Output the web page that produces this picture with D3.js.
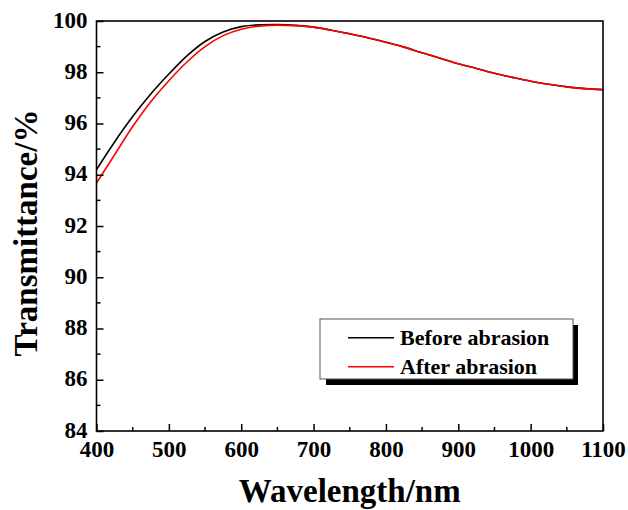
<!DOCTYPE html>
<html>
<head>
<meta charset="utf-8">
<script src="https://cdn.jsdelivr.net/npm/d3@7"></script>
<style>
  html, body { margin: 0; padding: 0; background: #fff; }
  svg { display: block; }
  text { font-family: "Liberation Serif", "Times New Roman", serif; font-weight: bold; fill: #000; }
</style>
</head>
<body>
<svg id="chart" width="628" height="510"></svg>
<script>
const wavelength = [400,425,450,475,500,525,550,575,600,625,650,675,700,725,750,775,800,825,850,875,900,925,950,975,1000,1025,1050,1075,1100];
const beforeAbrasion = [94.20,95.28,96.27,97.15,97.93,98.64,99.20,99.57,99.78,99.85,99.86,99.83,99.76,99.64,99.50,99.35,99.17,98.98,98.76,98.55,98.33,98.15,97.96,97.80,97.65,97.53,97.43,97.36,97.32];
const afterAbrasion  = [93.68,94.78,95.88,96.85,97.67,98.40,99.00,99.43,99.68,99.80,99.84,99.82,99.76,99.64,99.50,99.35,99.17,98.98,98.76,98.55,98.33,98.15,97.96,97.80,97.65,97.53,97.43,97.36,97.32];
const xTicks = [400,500,600,700,800,900,1000,1100];
const yTicks = [84,86,88,90,92,94,96,98,100];
const seriesNames = ["Before abrasion","After abrasion"];
const seriesColors = ["#000000","#ff0000"];

const svg = d3.select("#chart");
const L = 96.5, R = 603, T = 21, B = 431;
const x = d3.scaleLinear().domain([400,1100]).range([L,R]);
const y = d3.scaleLinear().domain([84,100]).range([B,T]);

// curves
const series = [beforeAbrasion, afterAbrasion];
const line = d3.line().x(d => x(d[0])).y(d => y(d[1])).curve(d3.curveMonotoneX);
series.forEach((vals, i) => {
  svg.append("path")
    .datum(wavelength.map((w, j) => [w, vals[j]]))
    .attr("d", line)
    .attr("fill", "none")
    .attr("stroke", seriesColors[i])
    .attr("stroke-width", 1.6);
});

// frame
svg.append("rect").attr("x", L).attr("y", T).attr("width", R - L).attr("height", B - T)
  .attr("fill", "none").attr("stroke", "#000").attr("stroke-width", 1.6);

// bottom axis
const xMinor = d3.range(450, 1100, 100);
const xAxis = d3.axisBottom(x).tickValues(xTicks).tickFormat(d3.format("d"))
  .tickSizeInner(-7).tickSizeOuter(0).tickPadding(10);
const gx = svg.append("g").attr("transform", `translate(0,${B})`).call(xAxis);
gx.select(".domain").remove();
gx.selectAll(".tick line").attr("stroke", "#000").attr("stroke-width", 1.5);
gx.selectAll(".tick text").attr("font-size", 23).attr("font-family", "Liberation Serif").attr("font-weight", "bold").attr("fill", "#000").attr("dy", "0.71em").attr("y", 10);
gx.selectAll(".minor").data(xMinor).enter().append("line")
  .attr("x1", d => x(d)).attr("x2", d => x(d)).attr("y1", 0).attr("y2", -4)
  .attr("stroke", "#000").attr("stroke-width", 1.5);

// left axis
const yMinor = d3.range(85, 100, 2);
const yAxis = d3.axisLeft(y).tickValues(yTicks).tickFormat(d3.format("d"))
  .tickSizeInner(-7).tickSizeOuter(0).tickPadding(9);
const gy = svg.append("g").attr("transform", `translate(${L},0)`).call(yAxis);
gy.select(".domain").remove();
gy.selectAll(".tick line").attr("stroke", "#000").attr("stroke-width", 1.5);
gy.selectAll(".tick text").attr("font-size", 23).attr("font-family", "Liberation Serif").attr("font-weight", "bold").attr("fill", "#000").attr("x", -9).attr("dy", "0.27em");
gy.selectAll(".minor").data(yMinor).enter().append("line")
  .attr("y1", d => y(d)).attr("y2", d => y(d)).attr("x1", 0).attr("x2", 4)
  .attr("stroke", "#000").attr("stroke-width", 1.5);

// axis titles
svg.append("text").attr("x", (L + R) / 2).attr("y", 502).attr("text-anchor", "middle")
  .attr("font-size", 33).text("Wavelength/nm");
svg.append("text").attr("transform", `translate(37,${233}) rotate(-90)`).attr("text-anchor", "middle")
  .attr("font-size", 33).text("Transmittance/%");

// legend
const lg = svg.append("g");
lg.append("rect").attr("x", 326).attr("y", 325).attr("width", 252).attr("height", 60).attr("fill", "#000");
lg.append("rect").attr("x", 320).attr("y", 319).attr("width", 253).attr("height", 60)
  .attr("fill", "#fff").attr("stroke", "#555").attr("stroke-width", 1);
seriesNames.forEach((name, i) => {
  const ly = 337.7 + i * 29;
  lg.append("line").attr("x1", 348).attr("x2", 394).attr("y1", ly).attr("y2", ly)
    .attr("stroke", seriesColors[i]).attr("stroke-width", 1.6);
  lg.append("text").attr("x", 400).attr("y", ly + 6.8).attr("font-size", 22).text(name);
});
</script>
</body>
</html>
